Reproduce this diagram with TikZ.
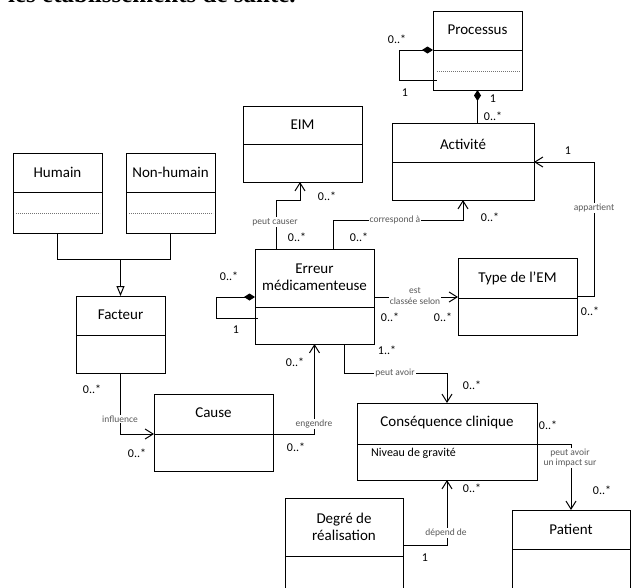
\documentclass[tikz,border=0pt]{standalone}
\usepackage{fontspec}
\setmainfont{Carlito}
\newfontfamily\headserif{Liberation Serif}
\usetikzlibrary{arrows.meta}
\newcommand\umlclass[6]{%
  \node[clsbox, minimum width={#4-#2}, minimum height={#5-#3}, anchor=north west] (#1) at (#2,#3) {};
  \draw[sepline] (#1.west |- 0,#6) -- (#1.east |- 0,#6);
}
\begin{document}
\begin{tikzpicture}[x=1pt,y=-1pt,
  clsbox/.style={draw, line width=1pt, inner sep=0pt, outer sep=0pt},
  sepline/.style={line width=1pt},
  dotline/.style={black!55, line width=0.6pt, dash pattern=on 1.2pt off 0.8pt},
  title/.style={font=\fontsize{15}{17}\selectfont, align=center, inner sep=0pt},
  attr/.style={font=\fontsize{12}{14}\selectfont, inner sep=0pt, anchor=west},
  mult/.style={font=\fontsize{12}{13}\selectfont, inner sep=0pt},
  lbl/.style={font=\fontsize{9.5}{10.5}\selectfont, text=black!65, fill=white, inner sep=1pt, align=center},
  assoc/.style={line width=1pt},
  nav/.style={assoc, -{Straight Barb[length=8pt,width=10pt]}},
  comp/.style={assoc, {Diamond[length=11pt,width=7pt]}-},
  gen/.style={assoc, -{Triangle[open,length=10pt,width=8pt]}}
]
\useasboundingbox (0,0) rectangle (634,587);
% cut-off heading line (only the feet of its letters lie inside the picture)
\node[anchor=base west, inner sep=0pt, font={\fontsize{25}{28}\selectfont\headserif\bfseries}] (heading) at (8,2.5) {les établissements de santé.};

% classes
\umlclass{hum}{13}{153}{102}{233}{192}
\umlclass{nonh}{126}{153}{215}{233}{192}
\umlclass{eim}{243}{106}{362}{182}{144}
\umlclass{proc}{433}{11}{522}{90}{50}
\umlclass{act}{392}{123}{534}{200}{162}
\umlclass{fac}{76}{296}{165}{373}{335}
\umlclass{err}{255}{249}{374}{344}{307}
\umlclass{type}{458}{258}{577}{335}{298}
\umlclass{cause}{154}{394}{273}{471}{434}
\umlclass{cons}{357}{403}{537}{480}{444}
\umlclass{deg}{285}{498}{403}{620}{556}
\umlclass{pat}{512}{510}{630}{620}{549}

\draw[dotline] (16,213) -- (100,213);
\draw[dotline] (129,213) -- (213,213);
\draw[dotline] (437,71) -- (520,71);

% titles
\node[title] (humT) at (57.5,172) {Humain};
\node[title] (nonhT) at (170.5,172) {Non-humain};
\node[title] (eimT) at (302.5,125) {EIM};
\node[title] (procT) at (477.5,30) {Processus};
\node[title] (actT) at (463,144) {Activité};
\node[title] (facT) at (120.5,315) {Facteur};
\node[title] (errT) at (314.5,277) {Erreur\\médicamenteuse};
\node[title] (typeT) at (517.5,278) {Type de l'EM};
\node[title] (causeT) at (213.5,413) {Cause};
\node[title] (consT) at (447,422) {Conséquence clinique};
\node[attr] (consA) at (371,453) {Niveau de gravité};
\node[title] (degT) at (344,527) {Degré de\\réalisation};
\node[title] (patT) at (571,529) {Patient};

% connectors
\draw[assoc] (hum.south) |- (nonh.south |- 0,259) -- (nonh.south);
\draw[gen] (fac.north |- 0,259) -- (fac.north);
\draw[nav] (fac.south) |- (cause.west |- 0,434);
\draw[nav] (cause.east |- 0,434) -| (err.south);
\draw[comp] (err.west |- 0,297) -- (216,297) |- (258,318);
\draw[comp] (proc.west |- 0,50) -- (399,50) |- (437,80);
\draw[comp] (proc.south) -- (act.north -| proc.south);
\draw[nav] (err.north -| 276,0) |- (300,200) -- (eim.south -| 300,0);
\draw[nav] (err.north -| 333,0) |- (act.south |- 0,220) -- (act.south);
\draw[nav] (err.east |- 0,297) -- (type.west |- 0,297);
\draw[nav] (type.east |- 0,296) -| (594,162) -- (act.east |- 0,162);
\draw[nav] (err.south -| 344,0) |- (cons.north |- 0,373) -- (cons.north);
\draw[nav] (cons.east |- 0,444) -| (pat.north);
\draw[nav] (deg.east |- 0,545) -| (cons.south);

% association labels
\node[lbl] (l1) at (120,419) {influence};
\node[lbl] (l2) at (314,424) {engendre};
\node[lbl] (l3) at (275,222) {peut causer};
\node[lbl] (l4) at (395,220) {correspond à};
\node[lbl] (l5) at (415,296) {est\\classée selon};
\node[lbl] (l6) at (594,208) {appartient};
\node[lbl] (l7) at (395,373) {peut avoir};
\node[lbl] (l8) at (570,458) {peut avoir\\un impact sur};
\node[lbl] (l9) at (446,533) {dépend de};

% multiplicities
\node[mult] (m1) at (92,389) {0..*};
\node[mult] (m2) at (137,453) {0..*};
\node[mult] (m3) at (296,447) {0..*};
\node[mult] (m4) at (295,362) {0..*};
\node[mult] (m5) at (229,276) {0..*};
\node[mult] (m6) at (236,330) {1};
\node[mult] (m7) at (297,237) {0..*};
\node[mult] (m8) at (327,196) {0..*};
\node[mult] (m9) at (359,237) {0..*};
\node[mult] (m10) at (490,217) {0..*};
\node[mult] (m11) at (390,317) {0..*};
\node[mult] (m12) at (443,317) {0..*};
\node[mult] (m13) at (568,151) {1};
\node[mult] (m14) at (590,311) {0..*};
\node[mult] (m15) at (397,39) {0..*};
\node[mult] (m16) at (405,93) {1};
\node[mult] (m17) at (493,99) {1};
\node[mult] (m18) at (493,116) {0..*};
\node[mult] (m19) at (387,350) {1..*};
\node[mult] (m20) at (472,385) {0..*};
\node[mult] (m21) at (548,425) {0..*};
\node[mult] (m22) at (602,490) {0..*};
\node[mult] (m23) at (425,558) {1};
\node[mult] (m24) at (472,488) {0..*};
\end{tikzpicture}
\end{document}
